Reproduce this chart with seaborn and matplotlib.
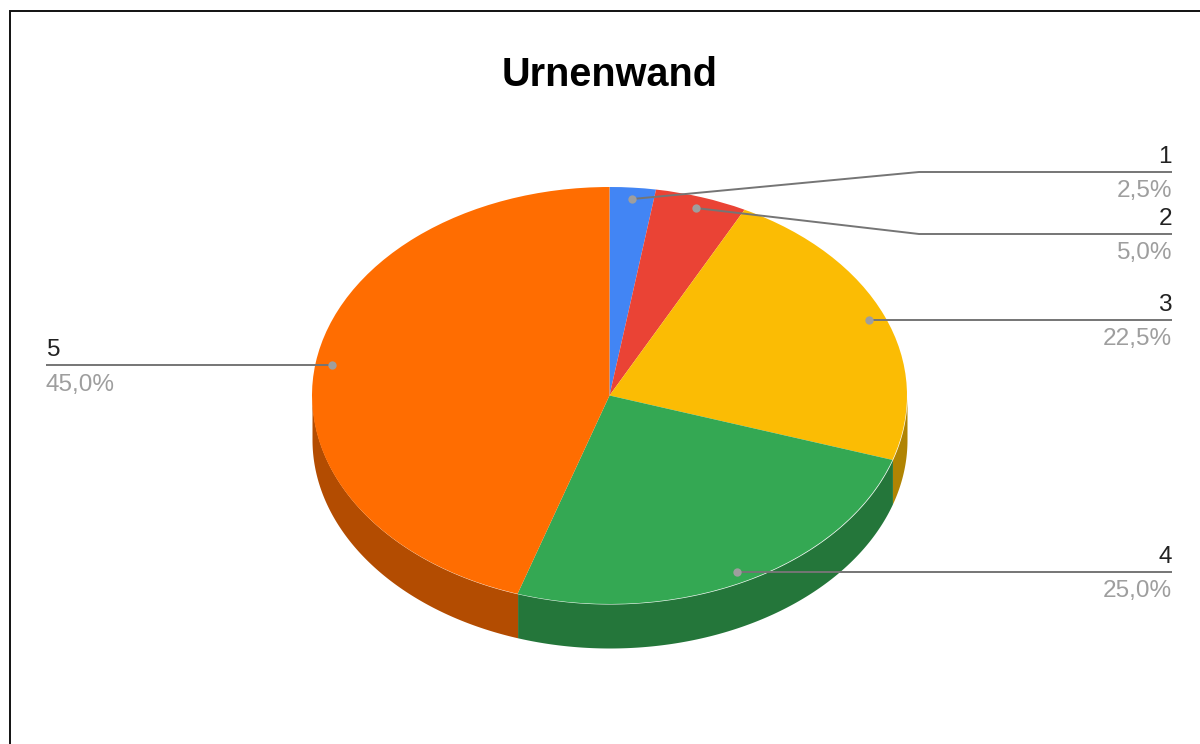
import numpy as np
import pandas as pd
import seaborn as sns
import matplotlib.pyplot as plt

# Slice data
names = ['1', '2', '3', '4', '5']
values = [2.5, 5.0, 22.5, 25.0, 45.0]
value_labels = ['2,5%', '5,0%', '22,5%', '25,0%', '45,0%']
top_colors = ['#4285F4', '#EA4335', '#FBBC04', '#34A853', '#FF6D01']
side_colors = ['#2E5DAA', '#A32F25', '#B08403', '#24763A', '#B34C01']

# Layout in pixels of the 1200x744 picture
W, H = 1200, 744
cx, cy, rx, ry, depth = 609.5, 395.5, 297.5, 208.5, 44
anchor_r = 0.945
leader_y = [172, 234, 320, 572, 365]
elbow_x = [919, 919, None, None, None]
leader_end = [1172, 1172, 1172, 1172, 46]

sns.set_theme(style='white')
plt.rcParams['font.family'] = ['Liberation Sans', 'DejaVu Sans']

fig = plt.figure(figsize=(W / 100, H / 100), dpi=100)

# Pie axes, radius 1 is squashed to an ellipse by the axis limits
ax = fig.add_axes([0, 0, 1, 1])
wedges, _ = ax.pie(values, colors=sns.color_palette(top_colors), startangle=90, counterclock=False,
                   radius=1, center=(0, 0), frame=True, wedgeprops={'linewidth': 0})
for w in wedges:
    w.set_zorder(3)

# Side wall, only the part of each slice on the front of the ellipse
angles = np.cumsum([0] + values) / 100 * 2 * np.pi
for i in range(len(values)):
    start = max(angles[i], np.pi / 2)
    end = min(angles[i + 1], 3 * np.pi / 2)
    if end <= start:
        continue
    t = np.linspace(start, end, 200)
    ax.fill_between(np.sin(t), np.cos(t), np.cos(t) - depth / ry,
                    color=side_colors[i], linewidth=0, zorder=2)

ax.set_aspect('auto')
ax.set_xlim((0 - cx) / rx, (W - cx) / rx)
ax.set_ylim((cy - H) / ry, cy / ry)
ax.axis('off')

# Overlay in pixel coordinates for leaders and text
over = fig.add_axes([0, 0, 1, 1])
over.patch.set_alpha(0)

mid = (angles[:-1] + angles[1:]) / 2
anchors = pd.DataFrame({
    'x': cx + rx * anchor_r * np.sin(mid),
    'y': cy - ry * anchor_r * np.cos(mid),
    'name': names,
})
# Leaders without an elbow stay flat
for i in range(len(names)):
    if elbow_x[i] is None:
        anchors.loc[i, 'y'] = leader_y[i]

for i, row in anchors.iterrows():
    xs = [row['x']]
    ys = [row['y']]
    if elbow_x[i] is not None:
        xs.append(elbow_x[i])
        ys.append(leader_y[i])
    xs.append(leader_end[i])
    ys.append(leader_y[i])
    over.plot(xs, ys, color='#757575', lw=1.4, solid_capstyle='butt', zorder=4)

    ha = 'left' if leader_end[i] < cx else 'right'
    over.text(leader_end[i], leader_y[i] - 9, row['name'], ha=ha, va='baseline',
              fontsize=17.6, color='#222222')
    over.text(leader_end[i], leader_y[i] + 25.5, value_labels[i], ha=ha, va='baseline',
              fontsize=17.6, color='#9E9E9E')

sns.scatterplot(data=anchors, x='x', y='y', ax=over, color='#9E9E9E', s=36,
                linewidth=0, zorder=5, legend=False)

over.text(610, 86, 'Urnenwand', ha='center', va='baseline', fontsize=28.5,
          fontweight='bold', color='black')

# Frame of the screenshot, only top and left are in the picture
over.plot([9.5, 9.5, W], [H, 11, 11], color='#111111', lw=1.4, solid_joinstyle='miter')

over.set_xlim(0, W)
over.set_ylim(H, 0)
over.axis('off')

fig.savefig('out.png', dpi=100, facecolor='white')
